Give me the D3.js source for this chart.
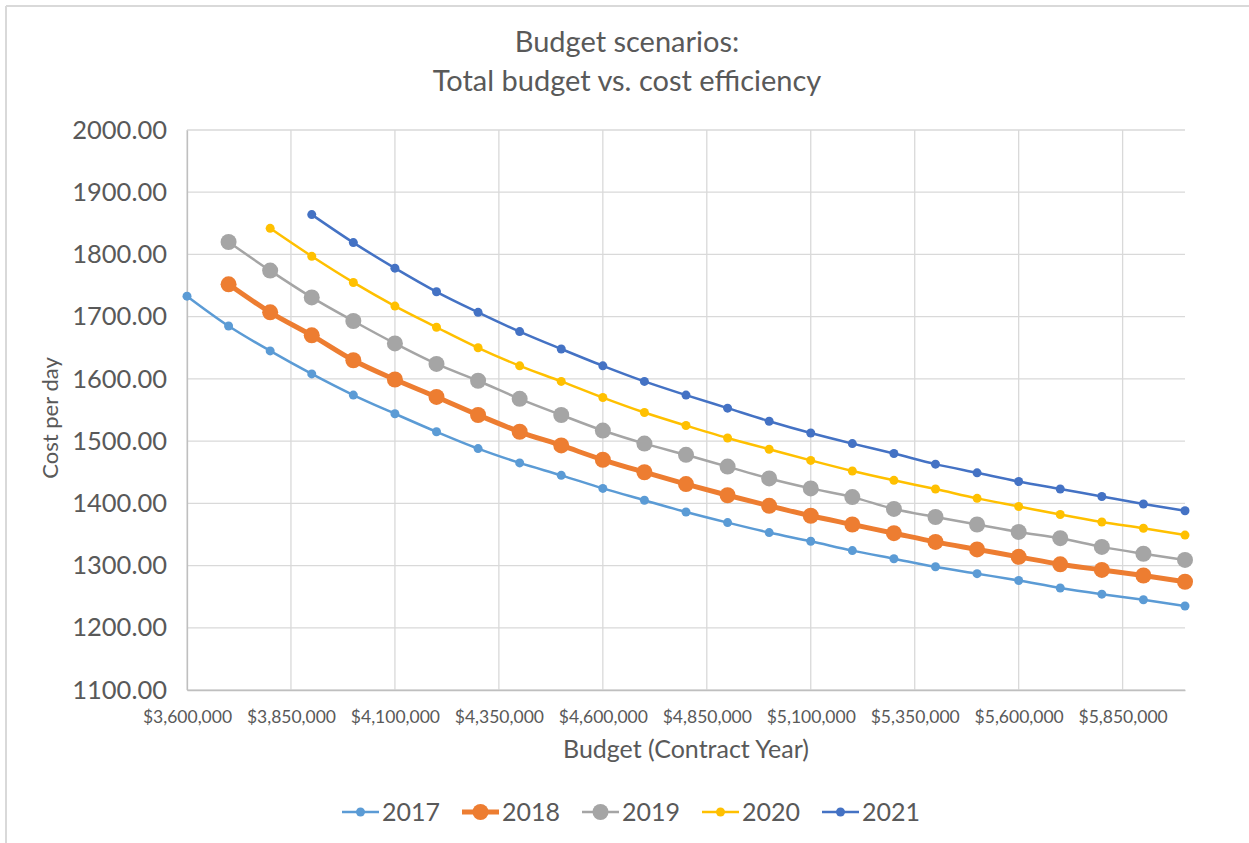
<!DOCTYPE html>
<html>
<head>
<meta charset="utf-8">
<script src="https://cdn.jsdelivr.net/npm/d3@7"></script>
<style>
  html, body { margin: 0; padding: 0; background: #fff; }
  svg { display: block; }
  text { font-family: Lato, "Open Sans", "Liberation Sans", sans-serif; fill: #595959; }
</style>
</head>
<body>
<svg id="chart" width="1249" height="843"></svg>
<script>
// ---- data ----
const budgets = [3600000,3700000,3800000,3900000,4000000,4100000,4200000,4300000,4400000,4500000,
  4600000,4700000,4800000,4900000,5000000,5100000,5200000,5300000,5400000,5500000,
  5600000,5700000,5800000,5900000,6000000];
const seriesNames = ["2017","2018","2019","2020","2021"];
const values2017 = [1733,1685,1645,1608,1574,1544,1515,1488,1465,1445,1424,1405,1386,1369,1353,1339,1324,1311,1298,1287,1276,1264,1254,1245,1235];
const values2018 = [null,1752,1707,1670,1630,1599,1571,1542,1515,1493,1470,1450,1431,1413,1396,1380,1366,1352,1338,1326,1314,1302,1293,1284,1274];
const values2019 = [null,1820,1774,1731,1693,1657,1624,1597,1568,1542,1517,1496,1478,1459,1440,1424,1410,1391,1378,1366,1354,1344,1330,1319,1309];
const values2020 = [null,null,1842,1797,1755,1717,1683,1650,1621,1596,1570,1546,1525,1505,1487,1469,1452,1437,1423,1408,1395,1382,1370,1360,1349];
const values2021 = [null,null,null,1864,1819,1778,1740,1707,1676,1648,1621,1596,1574,1553,1532,1513,1496,1480,1463,1449,1435,1423,1411,1399,1388];
const xTicks = [3600000,3850000,4100000,4350000,4600000,4850000,5100000,5350000,5600000,5850000];
const yTicks = [1100,1200,1300,1400,1500,1600,1700,1800,1900,2000];

const allValues = [values2017, values2018, values2019, values2020, values2021];
const colors = ["#5B9BD5","#ED7D31","#A5A5A5","#FFC000","#4472C4"];
const lineW = [2.5, 5, 2.5, 2.5, 2.5];
const markR = [4.5, 8, 8, 4.5, 4.5];

// ---- layout ----
const svg = d3.select("#chart");
const plot = {left: 187, right: 1185, top: 130, bottom: 690};

// chart border (top and left)
svg.append("line").attr("x1",6).attr("x2",1249).attr("y1",6).attr("y2",6).attr("stroke","#d9d9d9").attr("stroke-width",2);
svg.append("line").attr("x1",6).attr("x2",6).attr("y1",6).attr("y2",843).attr("stroke","#d9d9d9").attr("stroke-width",2);

const x = d3.scaleLinear().domain([3600000, 6000000]).range([plot.left, plot.right]);
const y = d3.scaleLinear().domain([1100, 2000]).range([plot.bottom, plot.top]);

// gridlines
svg.append("g").selectAll("line").data(yTicks).join("line")
  .attr("x1", plot.left).attr("x2", plot.right)
  .attr("y1", d => y(d)).attr("y2", d => y(d))
  .attr("stroke", "#d9d9d9").attr("stroke-width", 1.3);
svg.append("g").selectAll("line").data(xTicks).join("line")
  .attr("x1", d => x(d)).attr("x2", d => x(d))
  .attr("y1", plot.top).attr("y2", plot.bottom)
  .attr("stroke", "#d9d9d9").attr("stroke-width", 1.3);

// axes
const yAxis = d3.axisLeft(y).tickValues(yTicks).tickFormat(d3.format(".2f")).tickSize(0).tickPadding(20);
const gy = svg.append("g").attr("transform", `translate(${plot.left},0)`).call(yAxis);
gy.select(".domain").attr("stroke", "#bfbfbf").attr("stroke-width", 1.3);
gy.selectAll("text").style("font-size", "25.5px").attr("fill", "#595959");

const fmtMoney = d => "$" + d3.format(",")(d);
const xAxis = d3.axisBottom(x).tickValues(xTicks).tickFormat(fmtMoney).tickSize(0).tickPadding(21);
const gx = svg.append("g").attr("transform", `translate(0,${plot.bottom})`).call(xAxis);
gx.select(".domain").attr("stroke", "#bfbfbf").attr("stroke-width", 1.3);
gx.selectAll("text").style("font-size", "17.5px").attr("fill", "#595959");

// titles
svg.append("text").attr("x", 627).attr("y", 52).attr("text-anchor", "middle").style("font-size", "29px").text("Budget scenarios:");
svg.append("text").attr("x", 627).attr("y", 91).attr("text-anchor", "middle").style("font-size", "29px").text("Total budget vs. cost efficiency");
svg.append("text").attr("x", 686).attr("y", 758).attr("text-anchor", "middle").style("font-size", "25px").text("Budget (Contract Year)");
svg.append("text").attr("transform", "translate(58,418) rotate(-90)").attr("text-anchor", "middle").style("font-size", "22px").text("Cost per day");

// series
const line = d3.line().defined(d => d.v != null).x(d => x(d.b)).y(d => y(d.v)).curve(d3.curveMonotoneX);
const g = svg.append("g");
allValues.forEach((vals, si) => {
  const pts = budgets.map((b, i) => ({b, v: vals[i]}));
  g.append("path").datum(pts).attr("d", line).attr("fill", "none")
    .attr("stroke", colors[si]).attr("stroke-width", lineW[si]).attr("stroke-linejoin", "round");
  g.append("g").selectAll("circle").data(pts.filter(d => d.v != null)).join("circle")
    .attr("cx", d => x(d.b)).attr("cy", d => y(d.v)).attr("r", markR[si]).attr("fill", colors[si]);
});

// legend
const legend = svg.append("g");
seriesNames.forEach((name, si) => {
  const lx = 342 + si * 120, ly = 812;
  legend.append("line").attr("x1", lx).attr("x2", lx + 37).attr("y1", ly).attr("y2", ly)
    .attr("stroke", colors[si]).attr("stroke-width", lineW[si]);
  legend.append("circle").attr("cx", lx + 18.5).attr("cy", ly).attr("r", markR[si]).attr("fill", colors[si]);
  legend.append("text").attr("x", lx + 40).attr("y", ly + 9).style("font-size", "25px").text(name);
});
</script>
</body>
</html>
